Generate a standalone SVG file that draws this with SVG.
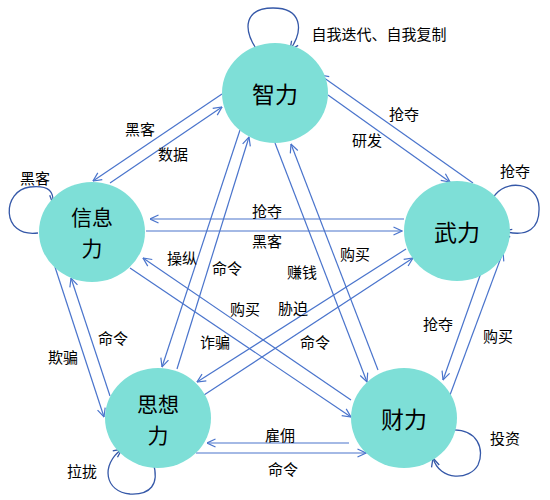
<svg xmlns="http://www.w3.org/2000/svg" width="550" height="500" viewBox="0 0 550 500">
<style>
.node{fill:#7EDFD7;}
.nl{font-family:"Noto Sans CJK SC","Noto Sans",sans-serif;font-size:23px;fill:#000;text-anchor:middle;dominant-baseline:central;}
.nl2{font-family:"Noto Sans CJK SC","Noto Sans",sans-serif;font-size:21px;fill:#000;text-anchor:middle;dominant-baseline:central;}
.el{font-family:"Noto Sans CJK SC","Noto Sans",sans-serif;font-size:15px;fill:#000;text-anchor:middle;dominant-baseline:central;}
.ln{fill:none;stroke:#4A74CC;stroke-width:1.2;marker-end:url(#ah);}
.lp{fill:none;stroke:#3558A8;stroke-width:1.3;marker-end:url(#ahl);}
</style>
<defs>
<marker id="ah" viewBox="0 0 10 10" refX="9.5" refY="5" markerWidth="10" markerHeight="10" markerUnits="userSpaceOnUse" orient="auto">
<path d="M1,1 L9.5,5 L1,9" fill="none" stroke="#4A74CC" stroke-width="1.2"/>
</marker>
<marker id="ahl" viewBox="0 0 10 10" refX="9.5" refY="5" markerWidth="10" markerHeight="10" markerUnits="userSpaceOnUse" orient="auto">
<path d="M1,1 L9.5,5 L1,9" fill="none" stroke="#3558A8" stroke-width="1.3"/>
</marker>
</defs>
<rect width="550" height="500" fill="#fff"/>
<g id="connectors">
<path class="ln" d="M222,94 L93,181"/>
<path class="ln" d="M110,183 L222,107"/>
<path class="ln" d="M473,183 L320,75"/>
<path class="ln" d="M328,95 L450,182"/>
<path class="ln" d="M404,219 L150,219"/>
<path class="ln" d="M146,231 L402,231"/>
<path class="ln" d="M240,130 L162,367"/>
<path class="ln" d="M177,369 L249,137"/>
<path class="ln" d="M275,143 L367,382"/>
<path class="ln" d="M378,370 L291,144"/>
<path class="ln" d="M55,267 L104,417"/>
<path class="ln" d="M110,396 L71,278"/>
<path class="ln" d="M351,400 L143,258"/>
<path class="ln" d="M130,268 L351,417"/>
<path class="ln" d="M406,249 L197,382"/>
<path class="ln" d="M204,395 L413,258"/>
<path class="ln" d="M482,270 L443,380"/>
<path class="ln" d="M450,395 L503,252"/>
<path class="ln" d="M349,443 L207,443"/>
<path class="ln" d="M196,453 L366,453"/>
<path class="lp" d="M257,50 C242,28 245,8 273,8 C302,8 304,30 290,50"/>
<path class="lp" d="M38,233 C0,238 2,190 30,187 C50,185 54,192 53,204"/>
<path class="lp" d="M493,198 C505,178 538,182 539,207 C540,228 528,238 503,231"/>
<path class="lp" d="M153,462 C160,485 150,495 130,494 C105,492 100,465 122,449"/>
<path class="lp" d="M450,430 C478,428 485,450 478,465 C470,480 440,482 433,458"/>
</g>
<g id="edge-labels">
<text class="el" x="379" y="33">自我迭代、自我复制</text>
<text class="el" x="35" y="177">黑客</text>
<text class="el" x="515" y="170">抢夺</text>
<text class="el" x="82" y="470">拉拢</text>
<text class="el" x="505" y="437">投资</text>
<text class="el" x="140" y="128">黑客</text>
<text class="el" x="173" y="153">数据</text>
<text class="el" x="404" y="113">抢夺</text>
<text class="el" x="367" y="139">研发</text>
<text class="el" x="267" y="210">抢夺</text>
<text class="el" x="267" y="240">黑客</text>
<text class="el" x="182" y="257">操纵</text>
<text class="el" x="227" y="267">命令</text>
<text class="el" x="302" y="271">赚钱</text>
<text class="el" x="355" y="253">购买</text>
<text class="el" x="245" y="308">购买</text>
<text class="el" x="293" y="307">胁迫</text>
<text class="el" x="215" y="341">诈骗</text>
<text class="el" x="315" y="341">命令</text>
<text class="el" x="113" y="337">命令</text>
<text class="el" x="63" y="356">欺骗</text>
<text class="el" x="438" y="323">抢夺</text>
<text class="el" x="498" y="335">购买</text>
<text class="el" x="280" y="434">雇佣</text>
<text class="el" x="283" y="468">命令</text>
</g>
<g id="node-zhili">
<ellipse class="node" cx="275" cy="93" rx="53" ry="50"/>
<text class="nl" x="275" y="93">智力</text>
</g>
<g id="node-xinxili">
<ellipse class="node" cx="92" cy="232" rx="53" ry="50"/>
<text class="nl2" x="92" y="216">信息</text>
<text class="nl2" x="92" y="247">力</text>
</g>
<g id="node-wuli">
<ellipse class="node" cx="457" cy="231" rx="53" ry="50"/>
<text class="nl" x="457" y="231">武力</text>
</g>
<g id="node-sixiangli">
<ellipse class="node" cx="158" cy="418" rx="53" ry="50"/>
<text class="nl2" x="158" y="403">思想</text>
<text class="nl2" x="158" y="434">力</text>
</g>
<g id="node-caili">
<ellipse class="node" cx="404" cy="418" rx="53" ry="50"/>
<text class="nl" x="404" y="418">财力</text>
</g>
</svg>
